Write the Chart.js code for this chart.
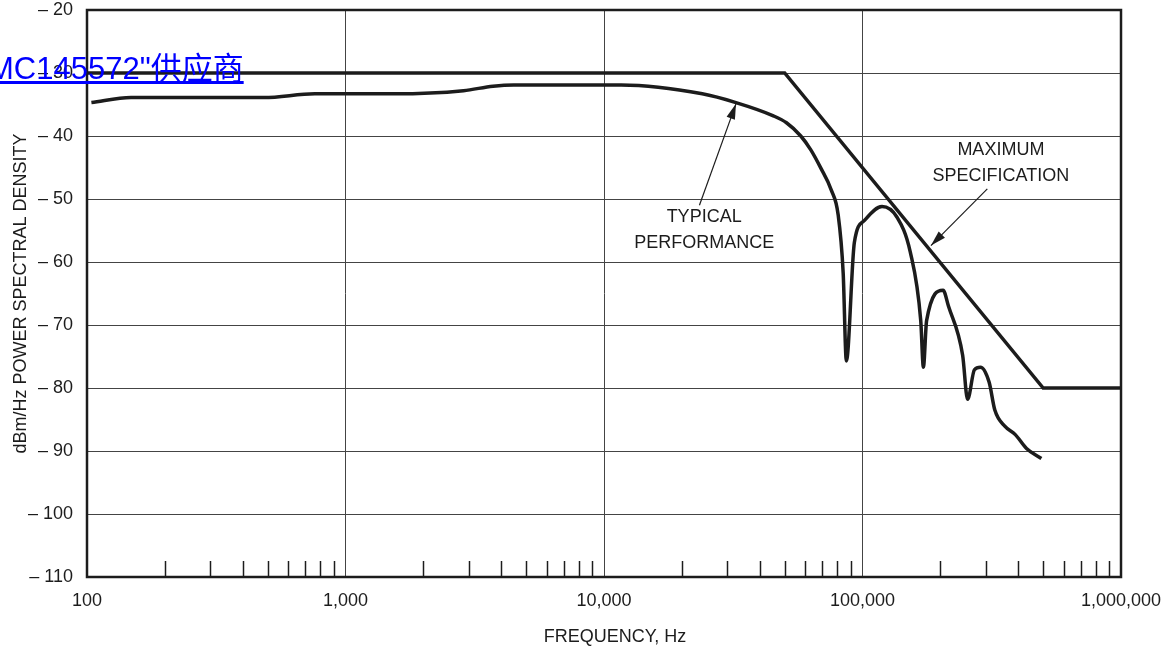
<!DOCTYPE html>
<html>
<head>
<meta charset="utf-8">
<script src="https://cdn.jsdelivr.net/npm/chart.js@4.4.1/dist/chart.umd.min.js"></script>
<style>
  html, body { margin: 0; padding: 0; background: #fff; }
  #wrap { position: relative; width: 1162px; height: 656px; overflow: hidden; }
  #link {
    position: absolute; left: -12px; top: 43px; z-index: 2;
    font: 31px 'Liberation Sans', 'Noto Sans CJK SC', sans-serif;
    color: #0000ff; text-decoration: underline; white-space: nowrap;
  }
</style>
</head>
<body>
<div id="wrap">
  <canvas id="chart" width="1162" height="656"></canvas>
  <a id="link">MC145572"供应商</a>
</div>
<script>
// Typical performance curve (frequency in Hz, PSD in dBm/Hz)
const typicalFreq = [104, 148, 484, 761, 1550, 2860, 3720, 4470, 11650, 24000, 32400, 45200, 50800,
  57700, 63100, 69000, 75600, 80500, 84200, 86600, 93000, 101800, 119000, 136000, 153000,
  168000, 172000, 177000, 205000, 215000, 244000, 255000, 271000, 286000, 309000, 325000, 356000,
  390000, 431000, 492000];
const typicalPsd = [-34.7, -33.9, -33.9, -33.3, -33.3, -32.8, -32.1, -31.9, -31.9, -33.3, -34.7, -36.8, -37.9,
  -40.0, -42.2, -45.1, -48.5, -52.5, -61.8, -75.7, -56.9, -53.4, -51.2, -52.9, -58.4,
  -69.3, -76.7, -69.3, -64.5, -67.0, -74.8, -81.8, -77.1, -76.7, -79.1, -83.5, -86.1,
  -87.4, -89.6, -91.2];

// Maximum specification mask
const maxSpecFreq = [100, 50000, 500000, 1000000];
const maxSpecPsd = [-30, -30, -80, -80];

// Axis ticks
const xTickValues = [100, 1000, 10000, 100000, 1000000];
const xTickLabels = ['100', '1,000', '10,000', '100,000', '1,000,000'];
const yMin = -110, yMax = -20, yStep = 10;

const FONT = "'Liberation Sans', Arial, sans-serif";
const FSIZE = 18;
const INK = '#1c1c1c';

// keep tick labels from pushing the plot area inward
function noOverflow(s) {
  s.paddingTop = 0; s.paddingBottom = 0; s.paddingLeft = 0; s.paddingRight = 0;
}

// Frame, minor ticks, callouts
const decorPlugin = {
  id: 'decor',
  afterDatasetsDraw(chart) {
    const { ctx, chartArea: a, scales: { x, y } } = chart;
    ctx.save();
    // minor ticks pointing up from the bottom axis
    ctx.strokeStyle = INK;
    ctx.lineWidth = 1.5;
    for (let dec = 100; dec < 1000000; dec *= 10) {
      for (let m = 2; m <= 9; m++) {
        const px = Math.round(x.getPixelForValue(m * dec)) + 0.5;
        ctx.beginPath();
        ctx.moveTo(px, a.bottom);
        ctx.lineTo(px, a.bottom - 16);
        ctx.stroke();
      }
    }
    // frame
    ctx.lineWidth = 2.5;
    ctx.strokeRect(a.left, a.top, a.right - a.left, a.bottom - a.top);

    ctx.fillStyle = INK;
    ctx.font = FSIZE + 'px ' + FONT;
    ctx.textAlign = 'center';
    ctx.textBaseline = 'middle';

    // x axis title, sits a little right of centre in the original
    ctx.fillText('FREQUENCY, Hz', (a.left + a.right) / 2 + 11, 637);

    // callout labels
    const label = (fx, py, lines) => {
      const px = x.getPixelForValue(fx), yy = y.getPixelForValue(py);
      lines.forEach((t, i) => ctx.fillText(t, px, yy + i * 26));
    };
    label(24400, -52.9, ['TYPICAL', 'PERFORMANCE']);
    label(343000, -42.2, ['MAXIMUM', 'SPECIFICATION']);

    // arrows
    const arrow = (f0, v0, f1, v1) => {
      const x0 = x.getPixelForValue(f0), y0 = y.getPixelForValue(v0);
      const x1 = x.getPixelForValue(f1), y1 = y.getPixelForValue(v1);
      const ang = Math.atan2(y1 - y0, x1 - x0);
      ctx.lineWidth = 1.2;
      ctx.beginPath();
      ctx.moveTo(x0, y0);
      ctx.lineTo(x1, y1);
      ctx.stroke();
      const L = 16, W = 0.28;
      ctx.beginPath();
      ctx.moveTo(x1, y1);
      ctx.lineTo(x1 - L * Math.cos(ang - W), y1 - L * Math.sin(ang - W));
      ctx.lineTo(x1 - L * Math.cos(ang + W), y1 - L * Math.sin(ang + W));
      ctx.closePath();
      ctx.fill();
    };
    arrow(23400, -51.0, 32400, -34.9);
    arrow(304000, -48.4, 184000, -57.4);
    ctx.restore();
  }
};

new Chart(document.getElementById('chart'), {
  type: 'line',
  data: {
    datasets: [{
      label: 'Maximum specification',
      data: maxSpecFreq.map((f, i) => ({ x: f, y: maxSpecPsd[i] })),
      borderColor: INK,
      borderWidth: 3.5,
      tension: 0,
      pointRadius: 0
    }, {
      label: 'Typical performance',
      data: typicalFreq.map((f, i) => ({ x: f, y: typicalPsd[i] })),
      borderColor: INK,
      borderWidth: 3.5,
      cubicInterpolationMode: 'monotone',
      pointRadius: 0
    }]
  },
  options: {
    responsive: false,
    animation: false,
    layout: { padding: { top: 10, right: 41, left: 0, bottom: 0 } },
    plugins: { legend: { display: false }, tooltip: { enabled: false } },
    scales: {
      x: {
        type: 'logarithmic',
        min: 100,
        max: 1000000,
        afterBuildTicks: s => { s.ticks = xTickValues.map(v => ({ value: v })); },
        afterFit: s => { s.height = 79; noOverflow(s); },
        border: { display: false },
        grid: { color: '#444', lineWidth: 1, drawTicks: false },
        ticks: {
          autoSkip: false, maxRotation: 0, padding: 13,
          color: INK, font: { family: FONT, size: FSIZE },
          callback: (v, i) => xTickLabels[i]
        },
        title: { display: false }
      },
      y: {
        min: yMin,
        max: yMax,
        afterFit: s => { s.width = 87; noOverflow(s); },
        border: { display: false },
        grid: { color: '#444', lineWidth: 1, drawTicks: false },
        ticks: {
          stepSize: yStep, padding: 14,
          color: INK, font: { family: FONT, size: FSIZE },
          callback: v => '\u2013 ' + Math.abs(v)
        },
        title: {
          display: true, text: 'dBm/Hz POWER SPECTRAL DENSITY', color: INK,
          font: { family: FONT, size: FSIZE }, padding: { top: 10, bottom: 0 }
        }
      }
    }
  },
  plugins: [decorPlugin]
});
</script>
</body>
</html>
